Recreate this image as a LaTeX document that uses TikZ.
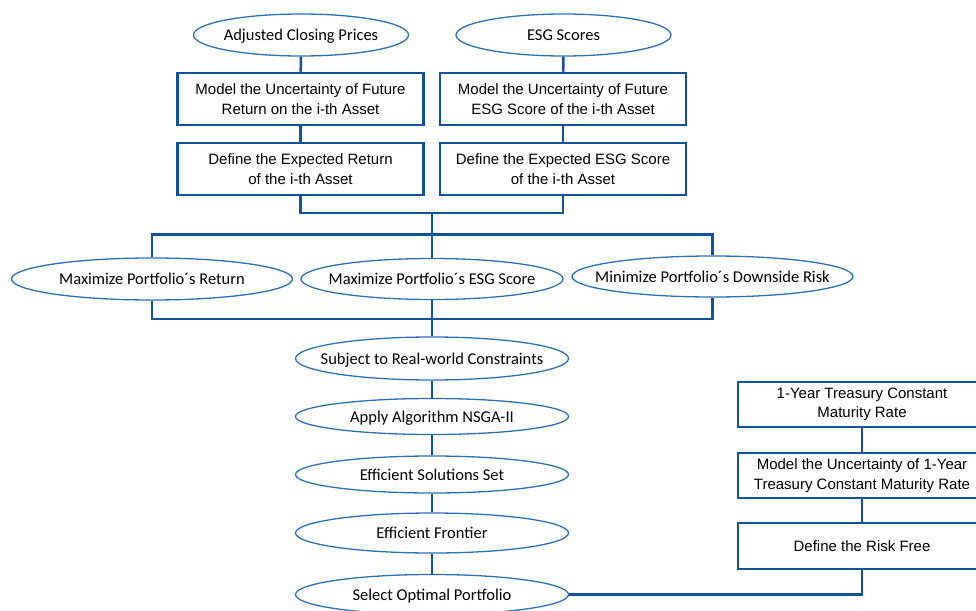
\documentclass[tikz,border=0pt]{standalone}
\usepackage{fontspec}
\setmainfont{Liberation Sans}
\newfontfamily\ovalfont{Carlito}
\usepackage{xcolor}
\usetikzlibrary{shapes.geometric, positioning}

\definecolor{flowblue}{RGB}{18,82,150}
\definecolor{ovalblue}{RGB}{46,112,182}

\begin{document}
\begin{tikzpicture}[x=1pt, y=-1pt,
    box/.style={draw=flowblue, line width=2.5pt, minimum width=246pt, minimum height=52pt,
      inner sep=0pt, align=center, font=\fontsize{15}{19.5}\selectfont},
    oval/.style={ellipse, draw=ovalblue, line width=1.3pt, minimum width=273pt, minimum height=40pt,
      inner xsep=-20pt, inner ysep=0pt, text depth=0pt, font=\ovalfont\fontsize{16.5}{20}\selectfont},
    link/.style={draw=flowblue, line width=2.5pt}]

    % 1. page frame
    \useasboundingbox (0,0) rectangle (976,610);

    % 2. data sources and the two expectation columns
    \node[oval, minimum width=215pt, minimum height=42pt] (adj) at (301,35) {Adjusted Closing Prices};
    \node[oval, minimum width=215pt, minimum height=42pt] (esg) at (563.5,35) {ESG Scores};
    \node[box] (modret) at (300.5,99) {Model the Uncertainty of Future\\Return on the i-th Asset};
    \node[box] (modesg) at (563,99) {Model the Uncertainty of Future\\ESG Score of the i-th Asset};
    \node[box] (defret) at (300.5,169) {Define the Expected Return\\of the i-th Asset};
    \node[box] (defesg) at (563,169) {Define the Expected ESG Score\\of the i-th Asset};

    \draw[link] (adj) -- (modret);
    \draw[link] (modret) -- (defret);
    \draw[link] (esg) -- (modesg);
    \draw[link] (modesg) -- (defesg);

    % 3. the three objectives
    \node[oval, minimum width=281pt, minimum height=42pt] (maxret) at (152,279) {Maximize Portfolio´s Return};
    \node[oval, minimum width=262pt, minimum height=41pt] (maxesg) at (432,279) {Maximize Portfolio´s ESG Score};
    \node[oval, minimum width=281pt, minimum height=41pt] (minrisk) at (712.5,276.5) {Minimize Portfolio´s Downside Risk};

    \coordinate (split) at (432,213);
    \coordinate (busA) at (432,234.5);
    \coordinate (busB) at (432,319);

    \draw[link] (defret.south) |- (split) -| (defesg.south);
    \draw[link] (split) -- (busA);
    \draw[link] (maxret.north) |- (busA) -| (minrisk.north);
    \draw[link] (busA) -- (maxesg.north);
    \draw[link] (maxret.south) |- (busB) -| (minrisk.south);

    % 4. optimisation chain
    \node[oval, minimum height=43pt] (subj) at (432,358.5) {Subject to Real-world Constraints};
    \node[oval, minimum height=36pt] (algo) at (432,416.5) {Apply Algorithm NSGA-II};
    \node[oval, minimum height=37pt] (sols) at (432,474.5) {Efficient Solutions Set};
    \node[oval, minimum height=40pt] (front) at (432,533) {Efficient Frontier};
    \node[oval, minimum height=40pt] (select) at (432,594.5) {Select Optimal Portfolio};

    \draw[link] (maxesg.south) -- (subj.north);
    \draw[link] (subj) -- (algo);
    \draw[link] (algo) -- (sols);
    \draw[link] (sols) -- (front);
    \draw[link] (front) -- (select);

    % 5. risk free branch
    \node[box, minimum width=248pt, minimum height=45pt] (treas) at (862,404.5) {1-Year Treasury Constant\\Maturity Rate};
    \node[box, minimum width=248pt, minimum height=45pt] (modrf) at (862,475.5) {Model the Uncertainty of 1-Year\\Treasury Constant Maturity Rate};
    \node[box, minimum width=248pt, minimum height=46pt] (riskfree) at (862,546) {Define the Risk Free};

    \draw[link] (treas) -- (modrf);
    \draw[link] (modrf) -- (riskfree);
    \draw[link] (riskfree.south) |- (select.east);

\end{tikzpicture}
\end{document}
